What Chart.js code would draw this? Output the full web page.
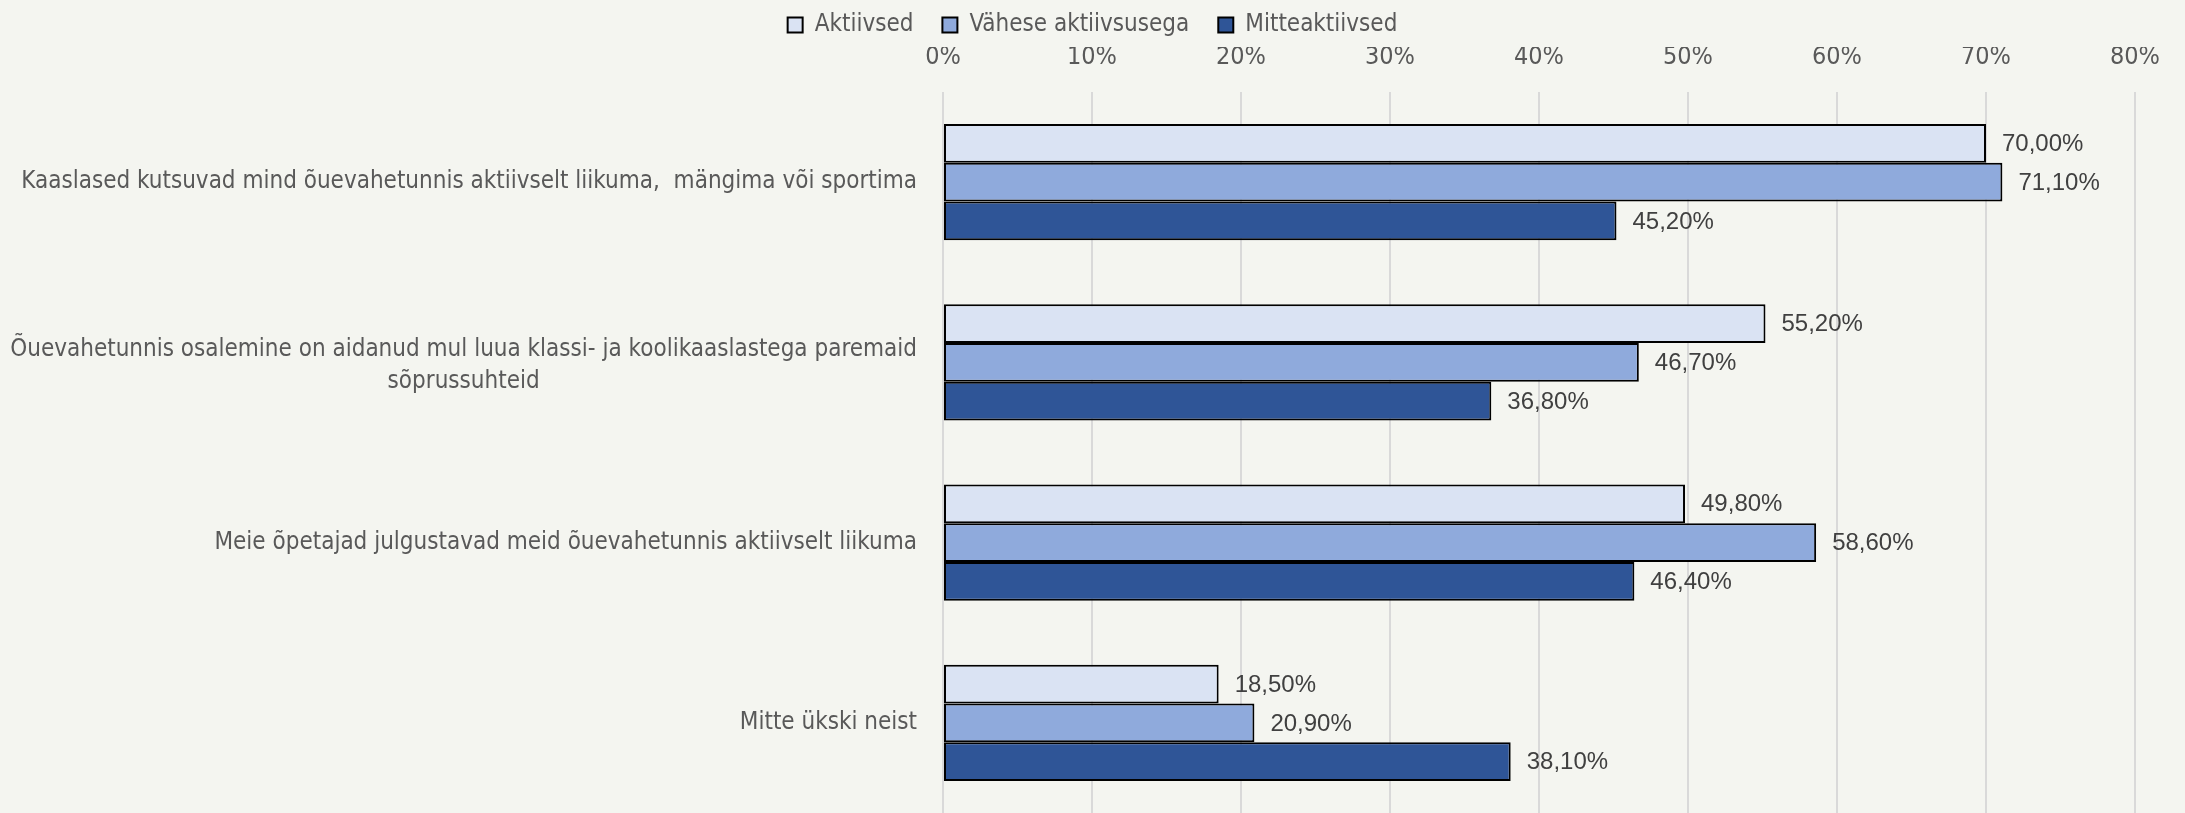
<!DOCTYPE html>
<html lang="et">
<head>
<meta charset="utf-8">
<title>Õuevahetund</title>
<script src="https://cdn.jsdelivr.net/npm/chart.js@4.4.1/dist/chart.umd.min.js"></script>
<style>
  html, body { margin: 0; padding: 0; background: #f4f5f0; }
  canvas { display: block; }
</style>
</head>
<body>
<canvas id="chart" width="2185" height="813"></canvas>
<script>
// Categories (multi-line labels are arrays of lines)
const categories = [
  ['Kaaslased kutsuvad mind õuevahetunnis aktiivselt liikuma,  mängima või sportima'],
  ['Õuevahetunnis osalemine on aidanud mul luua klassi- ja koolikaaslastega paremaid', 'sõprussuhteid'],
  ['Meie õpetajad julgustavad meid õuevahetunnis aktiivselt liikuma'],
  ['Mitte ükski neist']
];

const seriesNames = ['Aktiivsed', 'Vähese aktiivsusega', 'Mitteaktiivsed'];

// Shares in percent
const aktiivsed = [70.0, 55.2, 49.8, 18.5];
const vaheseAktiivsusega = [71.1, 46.7, 58.6, 20.9];
const mitteaktiivsed = [45.2, 36.8, 46.4, 38.1];

const tickMin = 0;
const tickMax = 80;
const tickStep = 10;

const narrowFont = '"Liberation Sans Narrow", "DejaVu Sans Condensed", sans-serif';
const plainFont = '"Liberation Sans", Arial, sans-serif';

function pct(v) {
  return v.toFixed(2).replace('.', ',') + '%';
}

// value labels to the right of every bar
const valueLabels = {
  id: 'valueLabels',
  afterDatasetsDraw(chart) {
    const ctx = chart.ctx;
    ctx.save();
    ctx.font = '24px ' + plainFont;
    ctx.fillStyle = '#404040';
    ctx.textAlign = 'left';
    ctx.textBaseline = 'middle';
    chart.data.datasets.forEach((ds, i) => {
      const meta = chart.getDatasetMeta(i);
      meta.data.forEach((bar, j) => {
        ctx.fillText(pct(ds.data[j]), bar.x + 16, bar.y + 1);
      });
    });
    ctx.restore();
  }
};

// category labels: block right-aligned to the axis, lines centred on each other
const categoryLabels = {
  id: 'categoryLabels',
  afterDraw(chart) {
    const ctx = chart.ctx;
    const yScale = chart.scales.y;
    const right = yScale.right - 26;
    const lineHeight = 32;
    ctx.save();
    ctx.font = '24px ' + narrowFont;
    ctx.fillStyle = '#595959';
    ctx.textAlign = 'center';
    ctx.textBaseline = 'middle';
    categories.forEach((lines, i) => {
      const yc = yScale.getPixelForTick(i) + (lines.length > 1 ? 3 : 0);
      const w = Math.max(...lines.map(l => ctx.measureText(l).width));
      const cx = right - w / 2;
      const y0 = yc - (lines.length - 1) * lineHeight / 2;
      lines.forEach((l, k) => ctx.fillText(l, cx, y0 + k * lineHeight));
    });
    ctx.restore();
  }
};

const ctx = document.getElementById('chart').getContext('2d');

new Chart(ctx, {
  type: 'bar',
  data: {
    labels: categories,
    datasets: [
      { label: seriesNames[0], data: aktiivsed, backgroundColor: '#dae3f3' },
      { label: seriesNames[1], data: vaheseAktiivsusega, backgroundColor: '#8faadc' },
      { label: seriesNames[2], data: mitteaktiivsed, backgroundColor: '#2f5597' }
    ].map(ds => Object.assign(ds, {
      borderColor: '#000000',
      borderWidth: 2,
      borderSkipped: false,
      barPercentage: 1,
      categoryPercentage: 0.6455
    }))
  },
  options: {
    indexAxis: 'y',
    responsive: false,
    animation: false,
    devicePixelRatio: 1,
    // legend padding is wide for the item spacing, so pull the block up;
    // the last group runs a little past the bottom edge
    layout: { padding: { left: 50, right: 50, top: -16, bottom: -4 } },
    plugins: {
      legend: {
        position: 'top',
        labels: {
          boxWidth: 15,
          boxHeight: 15,
          padding: 29,
          color: '#595959',
          font: { family: narrowFont, size: 24 }
        }
      },
      tooltip: { enabled: false }
    },
    scales: {
      x: {
        position: 'top',
        min: tickMin,
        max: tickMax,
        ticks: {
          stepSize: tickStep,
          padding: 20,
          color: '#595959',
          font: { family: narrowFont, size: 25 },
          callback: v => v + '%'
        },
        grid: { color: '#d9d9d9', lineWidth: 2, drawTicks: false },
        border: { display: false },
        afterFit(scale) { scale.height = 45; }
      },
      y: {
        ticks: { display: false },
        grid: { display: false },
        border: { display: false },
        afterFit(scale) { scale.width = 893; }
      }
    }
  },
  plugins: [valueLabels, categoryLabels]
});
</script>
</body>
</html>
